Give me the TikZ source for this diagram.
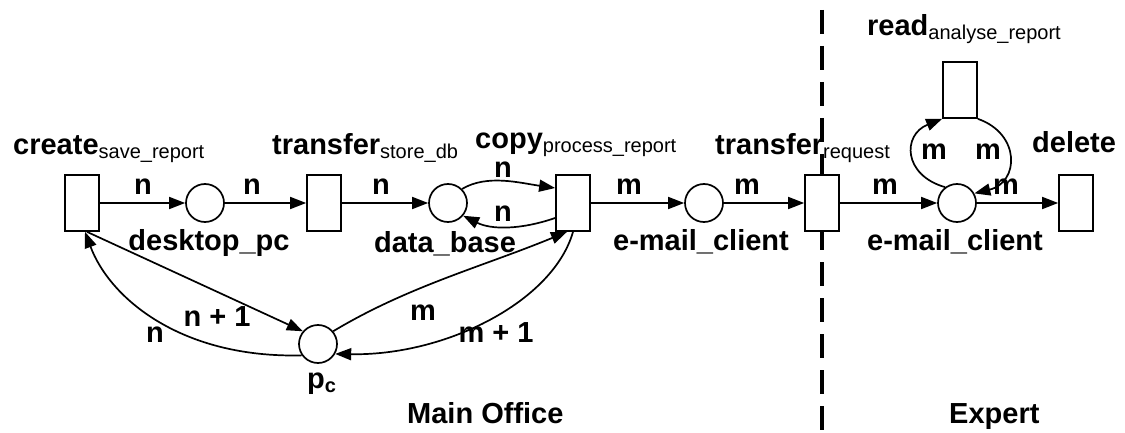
\documentclass[tikz,border=0pt]{standalone}
\usepackage{fontspec}
\setmainfont{Liberation Sans}
\usetikzlibrary{arrows.meta}
% bold name with a lowered, lighter subscript
\newcommand\withsub[2]{\textbf{#1}\raisebox{-4pt}{\fontsize{20}{20}\selectfont\mdseries #2}}

\begin{document}
\begin{tikzpicture}[x=1pt,y=-1pt,
  trans/.style={draw,fill=white,line width=1.7pt,minimum width=34pt,minimum height=56pt,inner sep=0pt},
  place/.style={draw,fill=white,circle,line width=1.7pt,minimum size=38pt,inner sep=0pt},
  flow/.style={line width=1.7pt,-{Triangle[length=16pt,width=12pt]}},
  txt/.style={inner sep=0pt,font=\fontsize{29}{29}\selectfont\bfseries},
  sep/.style={line width=3.2pt,dash pattern=on 24pt off 12pt}]
\useasboundingbox (0,0) rectangle (1125,433);

% partition between the two sites
\coordinate (septop) at (822,10);
\coordinate (sepbot) at (822,433);
\draw[sep] (septop) -- (sepbot);

% transitions and places
\node[trans] (T1) at (82,203) {};
\node[place] (P1) at (205,203) {};
\node[trans] (T2) at (324,203) {};
\node[place] (P2) at (448,203) {};
\node[trans] (T3) at (573,203) {};
\node[place] (P3) at (704,203) {};
\node[trans] (T4) at (822,203) {};
\node[place] (P4) at (957,203) {};
\node[trans] (T6) at (1076,203) {};
\node[trans] (T5) at (960,90) {};
\node[place] (Pc) at (318,344) {};

% names of transitions
\node[txt,anchor=base west] (L1) at (13,155) {\withsub{create}{save\_report}};
\node[txt,anchor=base west] (L2) at (272,155) {\withsub{transfer}{store\_db}};
\node[txt,anchor=base west] (L3) at (475,149) {\withsub{copy}{process\_report}};
\node[txt,anchor=base west] (L4) at (715,155) {\withsub{transfer}{request}};
\node[txt,anchor=base west] (L6) at (1032,153) {delete};
\node[txt,anchor=base west] (L5) at (867,36) {\withsub{read}{analyse\_report}};

% names of places
\node[txt,anchor=base] (N1) at (209,250) {desktop\_pc};
\node[txt,anchor=base] (N2) at (445,252) {data\_base};
\node[txt,anchor=base] (N3) at (701,250) {e-mail\_client};
\node[txt,anchor=base] (N4) at (955,250) {e-mail\_client};
\node[txt,anchor=base west] (Nc) at (307,388) {p\raisebox{-4pt}{\fontsize{20}{20}\selectfont c}};

% sites
\node[txt,anchor=base west] (S1) at (407,423) {Main Office};
\node[txt,anchor=base west] (S2) at (949,423) {Expert};

% main flow
\draw[flow] (T1) -- (P1);
\draw[flow] (P1) -- (T2);
\draw[flow] (T2) -- (P2);
\draw[flow] (P2.45) .. controls +(25,-15) and +(-35,-5) .. ([yshift=15pt]T3.west);
\draw[flow] ([yshift=-15pt]T3.west) .. controls +(-35,12) and +(28,14) .. (P2.-40);
\draw[flow] (T3) -- (P3);
\draw[flow] (P3) -- (T4);
\draw[flow] (T4) -- (P4);
\draw[flow] (P4) -- (T6);

% loop through the reading step
\draw[flow] (P4.127) .. controls +(-42,-12) and +(-40,16) .. (T5.south west);
\draw[flow] (T5.south east) .. controls +(43,15) and +(45,-11) .. (P4.29);

% counter place
\draw[flow] ([xshift=5pt]T1.south) -- (Pc.140);
\draw[flow] (Pc.215) .. controls +(-120,3) and +(25,67) .. ([xshift=3pt]T1.south);
\draw[flow] (Pc.40) .. controls +(75,-45) and +(-85,35) .. ([xshift=-6pt]T3.south);
\draw[flow] (T3.south) .. controls +(-20,70) and +(110,2) .. (Pc.-30);

% arc weights
\node[txt,anchor=base] (w1) at (143,195) {n};
\node[txt,anchor=base] (w2) at (252,195) {n};
\node[txt,anchor=base] (w3) at (381,195) {n};
\node[txt,anchor=base] (w4) at (503,178) {n};
\node[txt,anchor=base] (w5) at (503,222) {n};
\node[txt,anchor=base] (w6) at (629,195) {m};
\node[txt,anchor=base] (w7) at (747,195) {m};
\node[txt,anchor=base] (w8) at (885,195) {m};
\node[txt,anchor=base] (w9) at (1006,195) {m};
\node[txt,anchor=base] (w10) at (934,160) {m};
\node[txt,anchor=base] (w11) at (988,160) {m};
\node[txt,anchor=base] (w12) at (217,326) {n + 1};
\node[txt,anchor=base] (w13) at (155,342) {n};
\node[txt,anchor=base] (w14) at (423,320) {m};
\node[txt,anchor=base] (w15) at (496,342) {m + 1};
\end{tikzpicture}
\end{document}
